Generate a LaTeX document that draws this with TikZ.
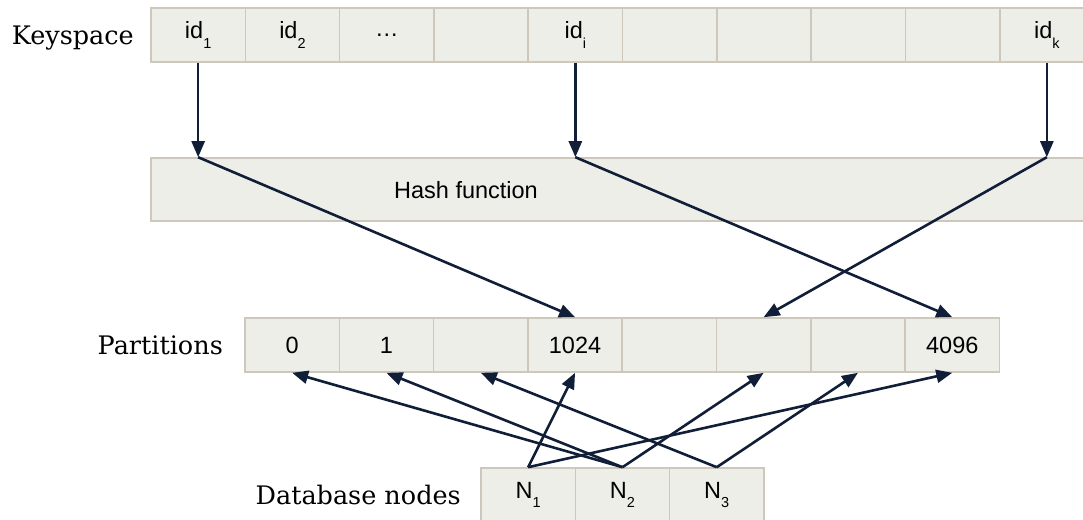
\documentclass[tikz,border=0pt]{standalone}
\usepackage{fontspec}
\usetikzlibrary{arrows.meta}
\newfontfamily\rowfont{DejaVu Serif}
\newfontfamily\cellfont{Liberation Sans}
\definecolor{cellfill}{RGB}{238,238,233}
\definecolor{celledge}{RGB}{206,199,188}
\definecolor{ink}{RGB}{16,30,56}
\newcommand{\sub}[1]{\raisebox{-0.4em}{\fontsize{14.5}{14.5}\selectfont #1}}
\tikzset{
  cell/.style={draw=celledge, fill=cellfill, line width=1.6pt, minimum width=94.3pt,
    minimum height=54pt, inner sep=0pt, font=\cellfont\fontsize{23.5}{26}\selectfont, text=black},
  rowlabel/.style={anchor=base east, inner sep=0pt, font=\rowfont\fontsize{25.5}{30}\selectfont, text=black},
  arr/.style={draw=ink, line width=2.6pt, -{Triangle[length=16pt,width=13pt]}},
}
\begin{document}
\begin{tikzpicture}[x=1pt, y=-1pt]
\useasboundingbox (0,0) rectangle (1083,519);
\clip (0,0) rectangle (1083,519);

% keyspace row
\foreach \i/\t in {1/{id\sub{1}},2/{id\sub{2}},3/{\dots},4/{},5/{id\sub{i}},6/{},7/{},8/{},9/{},10/{id\sub{k}}}
  \node[cell] (k\i) at ({151+94.3*(\i-0.5)},35) {\t};
\node[rowlabel] (klabel) at (134,45) {Keyspace};

% hash function band
\node[cell, minimum width=960pt, minimum height=63pt] (hash) at (631,189.5) {};
\node[font=\cellfont\fontsize{23.5}{26}\selectfont, inner sep=0pt] (hashtext) at (466,190) {Hash function};

% partitions row
\foreach \i/\t in {1/0,2/1,3/{},4/1024,5/{},6/{},7/{},8/4096}
  \node[cell] (p\i) at ({245+94.3*(\i-0.5)},345) {\t};
\node[rowlabel] (plabel) at (223,354) {Partitions};

% database nodes row
\foreach \i in {1,2,3}
  \node[cell] (n\i) at ({481+94.3*(\i-0.5)},495) {N\sub{\i}};
\node[rowlabel] (nlabel) at (461,504) {Database nodes};

% keys into the hash function
\coordinate (h1) at (k1.south |- hash.north);
\coordinate (h5) at (k5.south |- hash.north);
\coordinate (h10) at (k10.south |- hash.north);
\draw[arr] (k1.south) -- (h1);
\draw[arr] (k5.south) -- (h5);
\draw[arr] (k10.south) -- (h10);

% hash values onto partitions
\draw[arr] (h1) -- (p4.north);
\draw[arr] (h5) -- (p8.north);
\draw[arr] (h10) -- (p6.north);

% partitions held by each database node
\draw[arr] (n1.north) -- (p4.south);
\draw[arr] (n1.north) -- (p8.south);
\draw[arr] (n2.north) -- (p1.south);
\draw[arr] (n2.north) -- (p2.south);
\draw[arr] (n2.north) -- (p6.south);
\draw[arr] (n3.north) -- (p3.south);
\draw[arr] (n3.north) -- (p7.south);
\end{tikzpicture}
\end{document}
